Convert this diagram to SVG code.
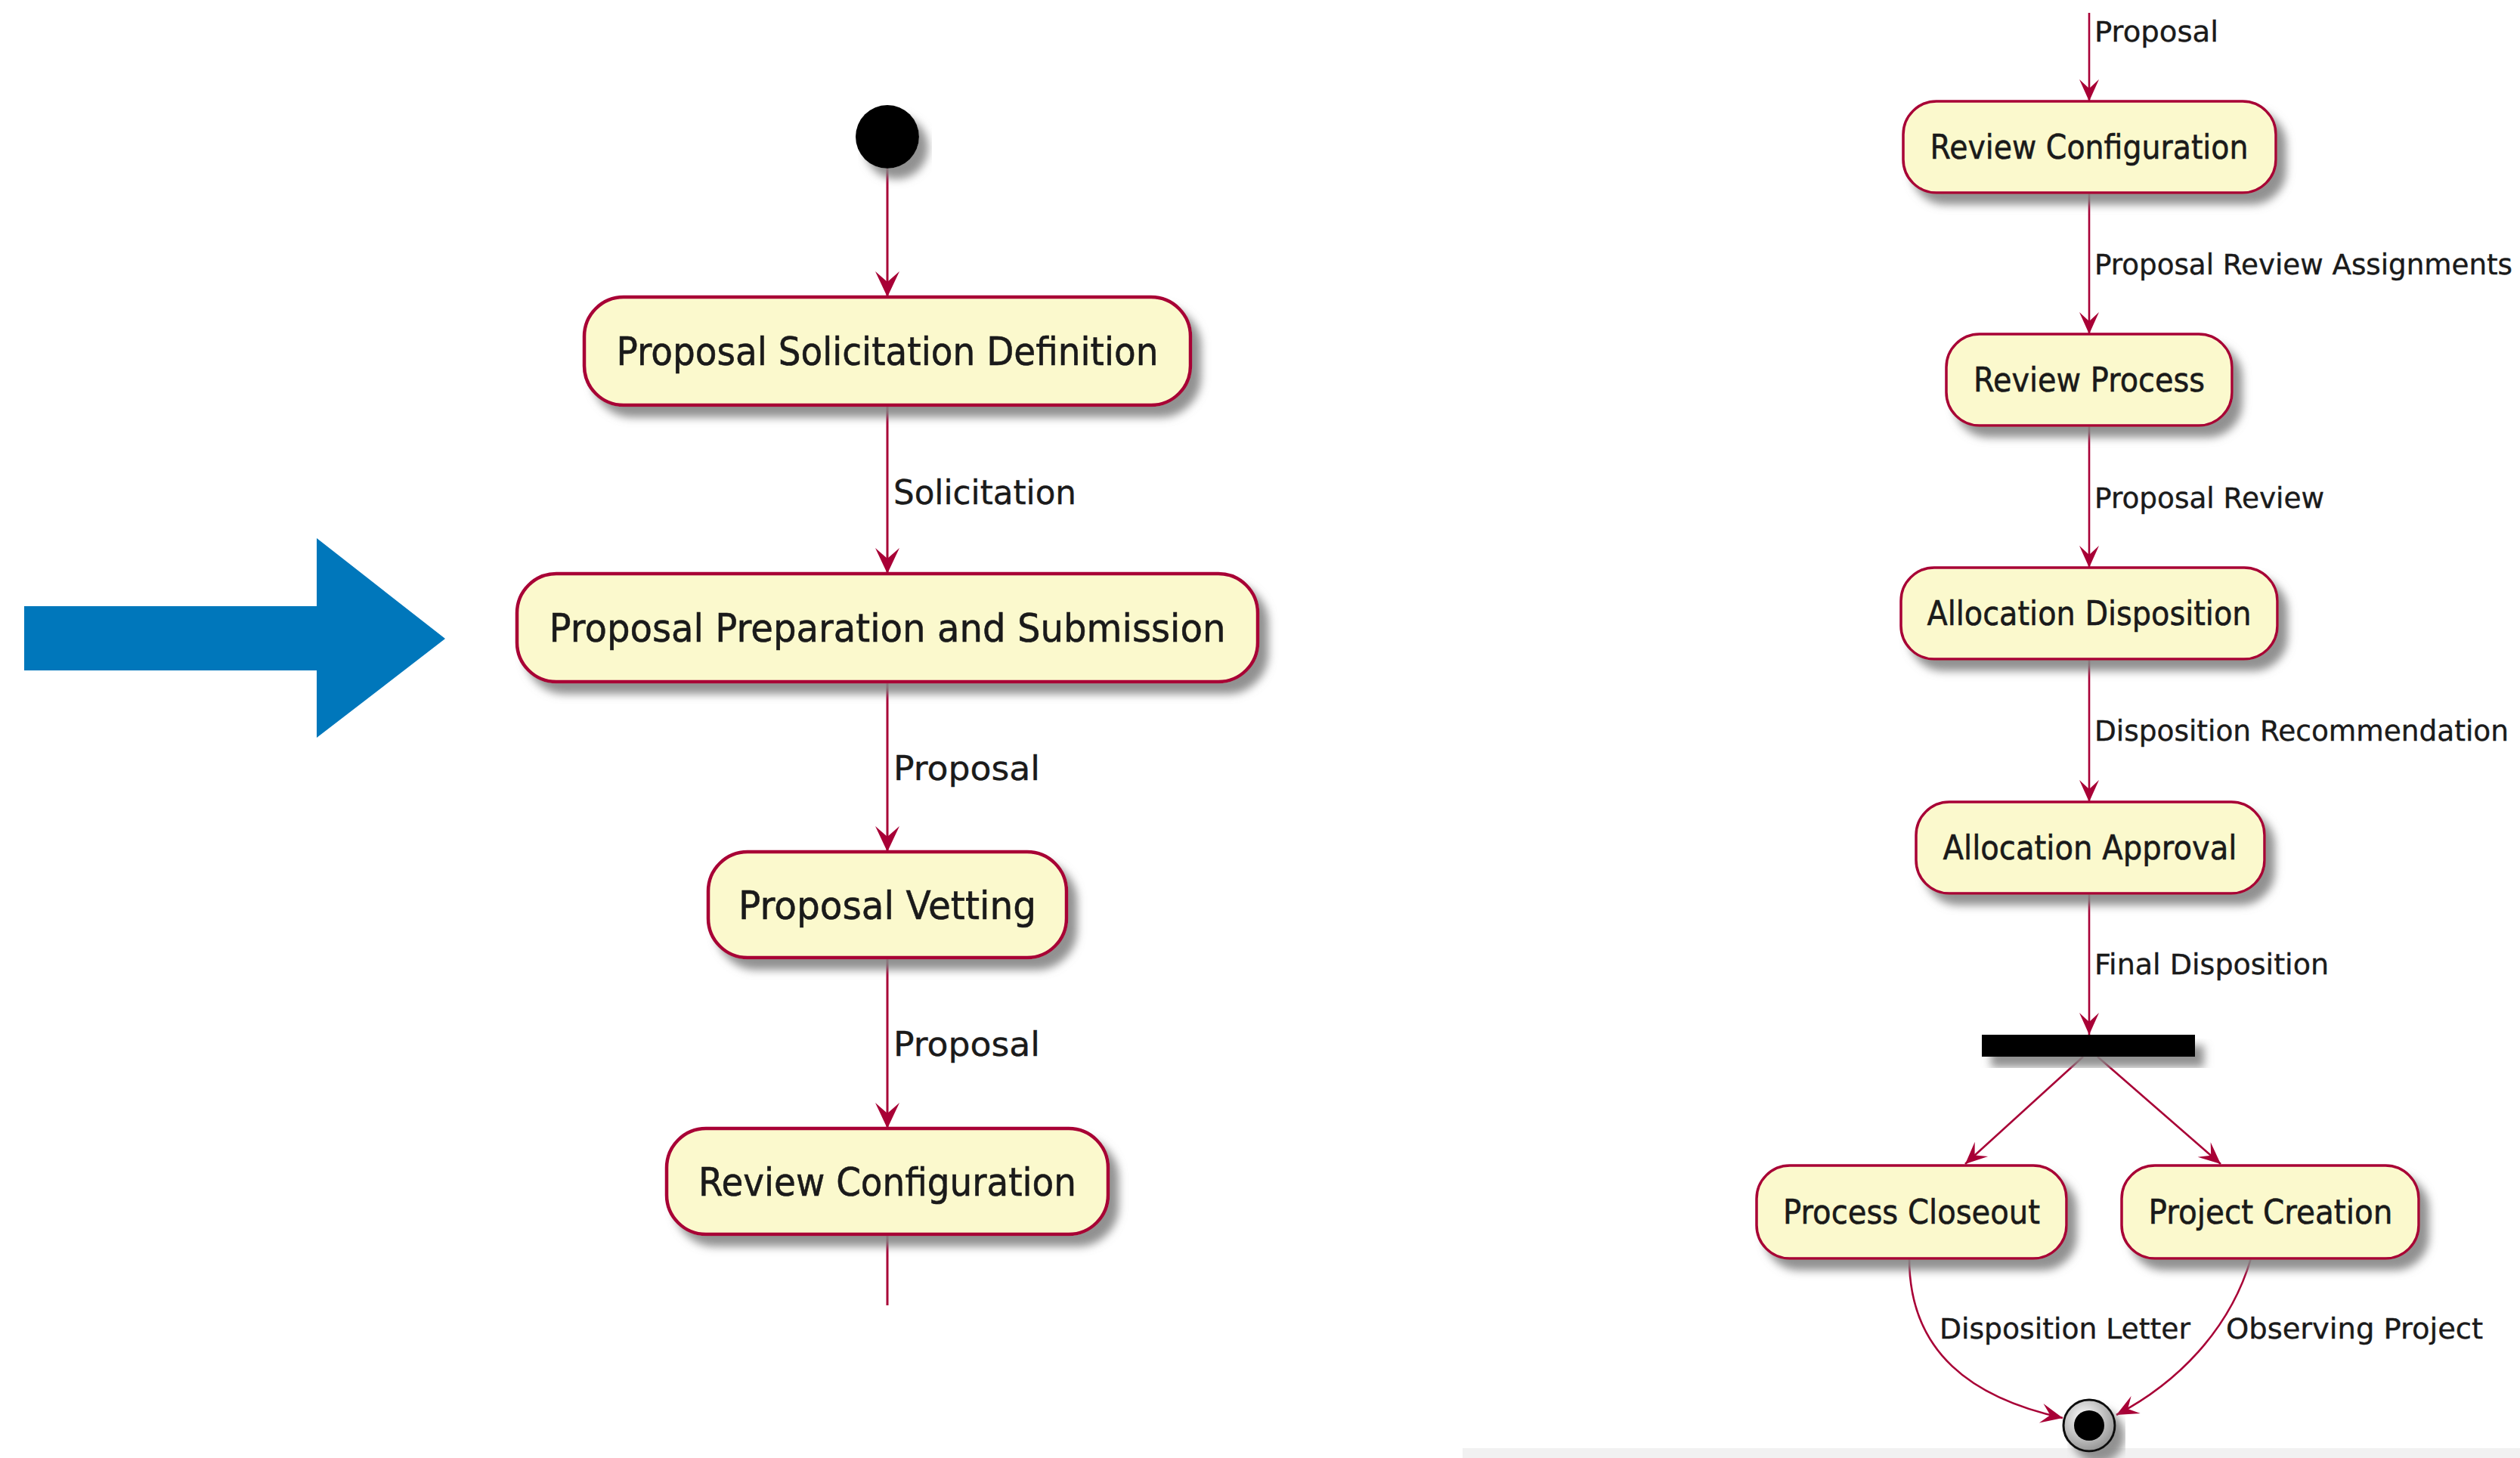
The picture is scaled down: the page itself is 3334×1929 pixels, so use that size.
<svg xmlns="http://www.w3.org/2000/svg" width="3334" height="1929" viewBox="0 0 3334 1929">
<style>
.node{fill:#FBF9CD;stroke:#A80036;}
.L .node{stroke-width:4.5;}
.R .node{stroke-width:3.5;}
.ntext{font-family:"DejaVu Sans",sans-serif;fill:#1a1a1a;text-anchor:middle;stroke:#1a1a1a;stroke-width:0.6;}
.L .ntext{font-size:52px;}
.R .ntext{font-size:44px;}
.lbl{font-family:"DejaVu Sans",sans-serif;fill:#1a1a1a;stroke:#1a1a1a;stroke-width:0.4;}
.lblL{font-size:44px;}
.lblR{font-size:37px;}
.edge{fill:none;stroke:#A80036;stroke-width:3;marker-end:url(#ah);}
.edgeR{fill:none;stroke:#A80036;stroke-width:2.6;marker-end:url(#ahR);}
</style>
<defs>
<filter id="sh" x="-10%" y="-30%" width="130%" height="180%">
<feGaussianBlur in="SourceAlpha" stdDeviation="6"/>
<feOffset dx="12" dy="14" result="b"/>
<feFlood flood-color="#858585" flood-opacity="0.9"/>
<feComposite in2="b" operator="in"/>
<feMerge><feMergeNode/><feMergeNode in="SourceGraphic"/></feMerge>
</filter>
<marker id="ah" markerUnits="userSpaceOnUse" markerWidth="36" markerHeight="36" refX="34" refY="17" orient="auto" overflow="visible">
<path d="M34,17 L0,1 L14,17 L0,33 Z" fill="#A80036"/>
</marker>
<marker id="ahR" markerUnits="userSpaceOnUse" markerWidth="30" markerHeight="30" refX="29" refY="14" orient="auto" overflow="visible">
<path d="M29,14 L0,1 L12,14 L0,27 Z" fill="#A80036"/>
</marker>
<radialGradient id="endg" cx="0.4" cy="0.35" r="0.7">
<stop offset="0" stop-color="#ffffff"/>
<stop offset="1" stop-color="#8f8f8f"/>
</radialGradient>
</defs>
<rect x="0" y="0" width="3334" height="1929" fill="#ffffff"/>
<rect x="1935" y="1916" width="1399" height="13" fill="#f1f1f1"/>

<g id="big-arrow">
<polygon points="32,802 419,802 419,712 589,845 419,976 419,887 32,887" fill="#0077BB"/>
</g>

<g id="connectors">
<line class="edge" x1="1174" y1="223" x2="1174" y2="393"/>
<line class="edge" x1="1174" y1="536" x2="1174" y2="759"/>
<line class="edge" x1="1174" y1="902" x2="1174" y2="1127"/>
<line class="edge" x1="1174" y1="1267" x2="1174" y2="1493"/>
<line x1="1174" y1="1633" x2="1174" y2="1727" stroke="#A80036" stroke-width="3"/>
<text class="lbl lblL" x="1182" y="667" textLength="242" lengthAdjust="spacingAndGlyphs">Solicitation</text>
<text class="lbl lblL" x="1182" y="1032" textLength="194" lengthAdjust="spacingAndGlyphs">Proposal</text>
<text class="lbl lblL" x="1182" y="1397" textLength="194" lengthAdjust="spacingAndGlyphs">Proposal</text>

<line class="edgeR" x1="2764" y1="17" x2="2764" y2="134"/>
<line class="edgeR" x1="2764" y1="255" x2="2764" y2="442"/>
<line class="edgeR" x1="2764" y1="563" x2="2764" y2="751"/>
<line class="edgeR" x1="2764" y1="872" x2="2764" y2="1061"/>
<line class="edgeR" x1="2764" y1="1182" x2="2764" y2="1369"/>
<line class="edgeR" x1="2756" y1="1398" x2="2600" y2="1540"/>
<line class="edgeR" x1="2775" y1="1398" x2="2938" y2="1540"/>
<path class="edgeR" d="M2526,1665 C2526,1790 2610,1850 2729,1876"/>
<path class="edgeR" d="M2978,1665 C2950,1760 2880,1830 2800,1872"/>
<text class="lbl lblR" x="2771" y="55" textLength="164" lengthAdjust="spacingAndGlyphs">Proposal</text>
<text class="lbl lblR" x="2771" y="363" textLength="553" lengthAdjust="spacingAndGlyphs">Proposal Review Assignments</text>
<text class="lbl lblR" x="2771" y="672" textLength="304" lengthAdjust="spacingAndGlyphs">Proposal Review</text>
<text class="lbl lblR" x="2771" y="980" textLength="548" lengthAdjust="spacingAndGlyphs">Disposition Recommendation</text>
<text class="lbl lblR" x="2771" y="1289" textLength="310" lengthAdjust="spacingAndGlyphs">Final Disposition</text>
<text class="lbl lblR" x="2566" y="1771" textLength="332" lengthAdjust="spacingAndGlyphs">Disposition Letter</text>
<text class="lbl lblR" x="2945" y="1771" textLength="340" lengthAdjust="spacingAndGlyphs">Observing Project</text>
</g>

<g class="L">
<g id="start">
<circle cx="1174" cy="181" r="42" fill="#000000" filter="url(#sh)"/>
</g>
<g id="proposal-solicitation-definition">
<rect class="node" x="773" y="393" width="802" height="143" rx="52" filter="url(#sh)"/>
<text class="ntext" x="1174" y="483" textLength="717" lengthAdjust="spacingAndGlyphs">Proposal Solicitation Definition</text>
</g>
<g id="proposal-preparation-and-submission">
<rect class="node" x="684" y="759" width="980" height="143" rx="52" filter="url(#sh)"/>
<text class="ntext" x="1174" y="849" textLength="895" lengthAdjust="spacingAndGlyphs">Proposal Preparation and Submission</text>
</g>
<g id="proposal-vetting">
<rect class="node" x="937" y="1127" width="474" height="140" rx="52" filter="url(#sh)"/>
<text class="ntext" x="1174" y="1216" textLength="394" lengthAdjust="spacingAndGlyphs">Proposal Vetting</text>
</g>
<g id="review-configuration-left">
<rect class="node" x="882" y="1493" width="584" height="140" rx="52" filter="url(#sh)"/>
<text class="ntext" x="1174" y="1582" textLength="500" lengthAdjust="spacingAndGlyphs">Review Configuration</text>
</g>
</g>

<g class="R">
<g id="review-configuration-right">
<rect class="node" x="2518" y="134" width="493" height="121" rx="44" filter="url(#sh)"/>
<text class="ntext" x="2764" y="210" textLength="421" lengthAdjust="spacingAndGlyphs">Review Configuration</text>
</g>
<g id="review-process">
<rect class="node" x="2575" y="442" width="378" height="121" rx="44" filter="url(#sh)"/>
<text class="ntext" x="2764" y="518" textLength="306" lengthAdjust="spacingAndGlyphs">Review Process</text>
</g>
<g id="allocation-disposition">
<rect class="node" x="2515" y="751" width="498" height="121" rx="44" filter="url(#sh)"/>
<text class="ntext" x="2764" y="827" textLength="429" lengthAdjust="spacingAndGlyphs">Allocation Disposition</text>
</g>
<g id="allocation-approval">
<rect class="node" x="2535" y="1061" width="461" height="121" rx="44" filter="url(#sh)"/>
<text class="ntext" x="2765" y="1137" textLength="389" lengthAdjust="spacingAndGlyphs">Allocation Approval</text>
</g>
<g id="fork">
<rect x="2622" y="1369" width="282" height="29" fill="#000000" filter="url(#sh)"/>
</g>
<g id="process-closeout">
<rect class="node" x="2324" y="1542" width="410" height="123" rx="44" filter="url(#sh)"/>
<text class="ntext" x="2529" y="1619" textLength="340" lengthAdjust="spacingAndGlyphs">Process Closeout</text>
</g>
<g id="project-creation">
<rect class="node" x="2807" y="1542" width="393" height="123" rx="44" filter="url(#sh)"/>
<text class="ntext" x="3004" y="1619" textLength="323" lengthAdjust="spacingAndGlyphs">Project Creation</text>
</g>
<g id="end">
<circle cx="2764" cy="1886" r="34" fill="url(#endg)" stroke="#111111" stroke-width="3" filter="url(#sh)"/>
<circle cx="2764" cy="1886" r="20" fill="#000000"/>
</g>
</g>
</svg>
